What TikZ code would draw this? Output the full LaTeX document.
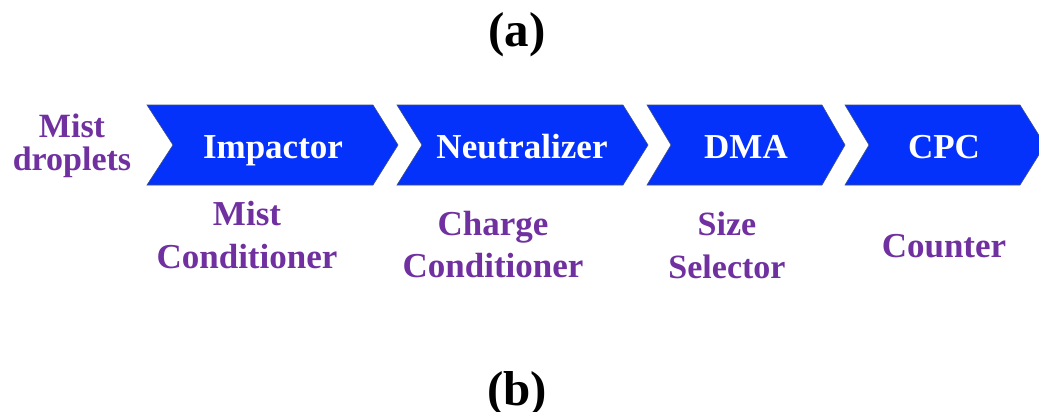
\documentclass[tikz,border=0pt]{standalone}
\usepackage{fontspec}
\setmainfont{Liberation Serif}
\definecolor{chevblue}{RGB}{5,50,250}
\definecolor{chevedge}{RGB}{60,80,140}
\definecolor{labpurple}{RGB}{112,48,160}
\tikzset{
  chev/.style={fill=chevblue,draw=chevedge,line width=0.6pt},
  chevtext/.style={text=white,font=\bfseries\fontsize{35}{40}\selectfont,anchor=base,inner sep=0pt},
  lab/.style={text=labpurple,align=center,anchor=base,inner sep=0pt},
  title/.style={font=\bfseries\fontsize{49}{54}\selectfont,anchor=base,inner sep=0pt}
}
\begin{document}
\begin{tikzpicture}[x=1pt,y=-1pt]
\useasboundingbox (0,0) rectangle (1039,412);
\begin{scope}
\clip (0,0) rectangle (1039,412);
% chevrons
\path[chev] (147,105) -- (373,105) -- (398,145) -- (373,185) -- (147,185) -- (173,145) -- cycle;
\path[chev] (397,105) -- (623,105) -- (648,145) -- (623,185) -- (397,185) -- (422,145) -- cycle;
\path[chev] (647,105) -- (822,105) -- (845,145) -- (822,185) -- (647,185) -- (671,145) -- cycle;
\path[chev] (845,105) -- (1020,105) -- (1045,145) -- (1020,185) -- (845,185) -- (869,145) -- cycle;
\end{scope}
\node[chevtext] (imp) at (273,158) {Impactor};
\node[chevtext] (neu) at (522,158) {Neutralizer};
\node[chevtext] (dma) at (746,158) {DMA};
\node[chevtext] (cpc) at (944,158) {CPC};
% labels (base anchor = baseline of the last line)
\node[lab,font=\bfseries\fontsize{34}{33}\selectfont] (mist) at (72,170) {Mist\\droplets};
\node[lab,font=\bfseries\fontsize{35}{43}\selectfont] (mc) at (247,268) {Mist\\Conditioner};
\node[lab,font=\bfseries\fontsize{35}{42}\selectfont] (cc) at (493,277) {Charge\\Conditioner};
\node[lab,font=\bfseries\fontsize{34}{43}\selectfont] (ss) at (727,278) {Size\\Selector};
\node[lab,font=\bfseries\fontsize{35}{43}\selectfont] (cnt) at (944,257) {Counter};
% titles
\node[title] (ta) at (517,47) {(a)};
\node[title] (tb) at (517,405) {(b)};
\end{tikzpicture}
\end{document}
